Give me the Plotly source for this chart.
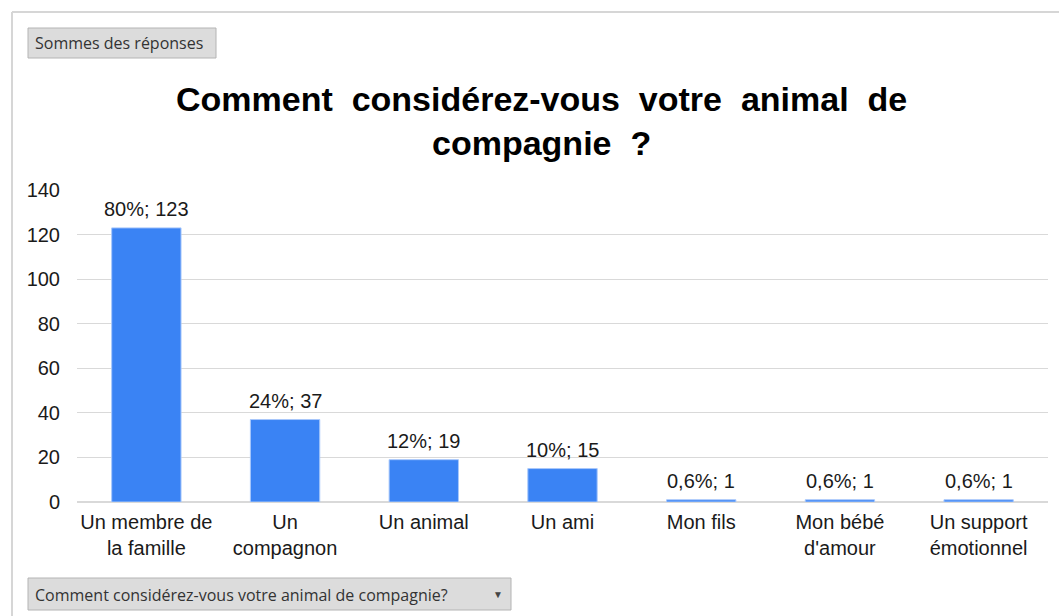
import plotly.graph_objects as go

# données
categories = ["Un membre de<br>la famille", "Un<br>compagnon", "Un animal", "Un ami",
              "Mon fils", "Mon bébé<br>d'amour", "Un support<br>émotionnel"]
counts = [123, 37, 19, 15, 1, 1, 1]
percent_labels = ["80%", "24%", "12%", "10%", "0,6%", "0,6%", "0,6%"]
y_ticks = [0, 20, 40, 60, 80, 100, 120, 140]

W, H = 1059, 616
L, R, T, B = 77, 1048, 190, 502


def px(x):
  return (x - L) / (R - L)


def py(y):
  return (B - y) / (B - T)


labels = [f"{p}; {c}" for p, c in zip(percent_labels, counts)]
font_main = "Liberation Sans, Arial"

fig = go.Figure(go.Bar(
  x=categories, y=counts,
  marker=dict(color="#3a83f4", line=dict(color="#a9c8fb", width=1)),
  width=0.5, hoverinfo="x+y",
))

shapes = [
  # cadre extérieur
  dict(type="line", xref="paper", yref="paper", x0=px(12), x1=px(12), y0=py(12), y1=py(616),
       line=dict(color="#d6d6d6", width=2)),
  dict(type="line", xref="paper", yref="paper", x0=px(12), x1=px(1059), y0=py(12), y1=py(12),
       line=dict(color="#d6d6d6", width=2)),
  # boutons
  dict(type="rect", xref="paper", yref="paper", x0=px(28), x1=px(216), y0=py(58), y1=py(28),
       fillcolor="#dcdcdc", line=dict(color="#b4b4b4", width=1)),
  dict(type="rect", xref="paper", yref="paper", x0=px(28), x1=px(511), y0=py(610), y1=py(578),
       fillcolor="#dcdcdc", line=dict(color="#b4b4b4", width=1)),
]

btn_font = dict(family="Open Sans, Noto Sans", size=16, color="#333333")
sp = "\u00a0 "
title = sp.join("Comment considérez-vous votre animal de".split(" ")) + "<br>compagnie" + sp + "?"
annotations = [
  dict(text="Sommes des réponses", xref="paper", yref="paper", x=px(33), y=py(43),
       xanchor="left", yanchor="middle", showarrow=False, font=btn_font),
  dict(text="Comment considérez-vous votre animal de compagnie?", xref="paper", yref="paper",
       x=px(33), y=py(595), xanchor="left", yanchor="middle", showarrow=False, font=btn_font),
  dict(text="▼", xref="paper", yref="paper", x=px(498), y=py(594), xanchor="center",
       yanchor="middle", showarrow=False, font=dict(size=10, color="#444444")),
  dict(text="<b>" + title + "</b>", xref="paper",
       yref="paper", x=px(541), y=py(121), xanchor="center", yanchor="middle", showarrow=False,
       font=dict(family=font_main, size=34, color="#000000")),
]

# étiquettes au-dessus des barres
for cat, cnt, lab in zip(categories, counts, labels):
  annotations.append(dict(text=lab, x=cat, y=cnt, xref="x", yref="y", yanchor="bottom",
                          yshift=6, showarrow=False,
                          font=dict(family=font_main, size=20, color="#1a1a1a")))

fig.update_layout(
  width=W, height=H,
  margin=dict(l=L, r=W - R, t=T, b=H - B),
  paper_bgcolor="white", plot_bgcolor="white",
  showlegend=False,
  shapes=shapes, annotations=annotations,
  xaxis=dict(tickfont=dict(family=font_main, size=20, color="#1a1a1a"),
             showgrid=False, showline=False, ticks="", ticklabelstandoff=6),
  yaxis=dict(range=[0, 140], tickvals=y_ticks, showgrid=True, gridcolor="#d9d9d9",
             zeroline=True, zerolinecolor="#d9d9d9",
             tickfont=dict(family=font_main, size=20, color="#1a1a1a"),
             ticklabelstandoff=16),
)

fig.write_html("out.html", config={"displayModeBar": False},
               post_script="document.body.style.margin='0';")
